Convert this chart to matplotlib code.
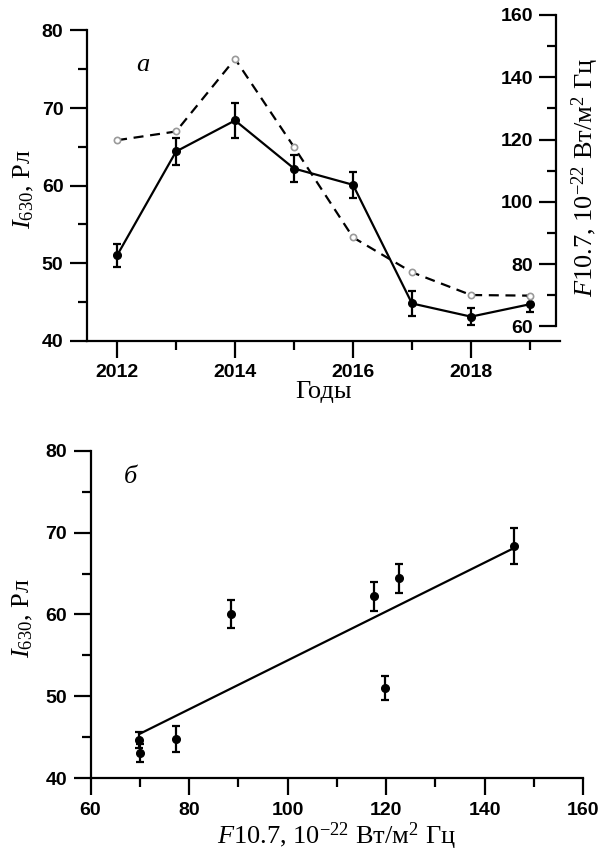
import numpy as np
import matplotlib
matplotlib.use('Agg')
import matplotlib.pyplot as plt
from matplotlib.ticker import MultipleLocator

years = [2012, 2013, 2014, 2015, 2016, 2017, 2018, 2019]
i630 = [51.0, 64.4, 68.4, 62.2, 60.1, 44.8, 43.1, 44.7]
i630_err = [1.5, 1.8, 2.2, 1.8, 1.7, 1.6, 1.1, 1.0]
f107 = [119.8, 122.6, 145.9, 117.6, 88.6, 77.4, 70.1, 69.9]

plt.rcParams['font.family'] = ['Liberation Sans', 'DejaVu Sans']
plt.rcParams['font.weight'] = 'bold'
plt.rcParams['mathtext.fontset'] = 'custom'
plt.rcParams['mathtext.rm'] = 'Liberation Serif:normal'
plt.rcParams['mathtext.it'] = 'Liberation Serif:italic:normal'

serif = dict(family='Liberation Serif', fontweight='normal', fontsize=19)
TICKSIZE = 14
LW = 1.6


def style_ticks(ax):
    ax.tick_params(which='major', direction='out', length=12, width=1.6,
                   labelsize=TICKSIZE, pad=5)
    ax.tick_params(which='minor', direction='out', length=6.5, width=1.6)


fig = plt.figure(figsize=(6.03, 8.56), dpi=100)

# ---- panel а ----
ax = fig.add_axes([0.1443, 0.602, 0.7844, 0.3805])
ax.errorbar(years, i630, yerr=i630_err, color='black', lw=LW, marker='o', ms=5.5,
            capsize=3, capthick=LW, elinewidth=LW, zorder=3)
ax.set_xlim(2011.49, 2019.51)
ax.set_ylim(40, 82.0)
ax.spines['left'].set_bounds(40, 80)
ax.spines['top'].set_visible(False)
ax.spines['right'].set_visible(False)
for s in ['left', 'bottom']:
    ax.spines[s].set_linewidth(1.6)
ax.xaxis.set_major_locator(MultipleLocator(2))
ax.xaxis.set_minor_locator(MultipleLocator(1))
ax.set_yticks([40, 50, 60, 70, 80])
ax.yaxis.set_minor_locator(MultipleLocator(5))
style_ticks(ax)
ax.set_xlabel('Годы', labelpad=0, **serif)
ax.set_ylabel('$I_{630}$, Рл', **serif)
ax.yaxis.set_label_coords(-0.107, 0.466)
ax.text(2012.44, 75.55, 'а', style='italic', ha='center', va='center', **serif)

# F10.7 axis: spine at the right end, ticks and labels on its left side
ax2 = ax.twinx()
ax2.plot(years, f107, color='black', lw=LW, ls=(0, (4.5, 3)), marker='o', ms=4.5,
         mfc='white', mec='#9a9a9a', mew=1.2, zorder=2)
ax2.set_ylim(55.44, 160)
for s in ['right', 'top', 'bottom']:
    ax2.spines[s].set_visible(False)
ax2.yaxis.tick_left()
ax2.spines['left'].set_position(('data', 2019.45))
ax2.spines['left'].set_bounds(60, 160)
ax2.spines['left'].set_linewidth(1.6)
ax2.set_yticks([60, 80, 100, 120, 140, 160])
ax2.yaxis.set_minor_locator(MultipleLocator(10))
style_ticks(ax2)
ax2.yaxis.set_label_position('right')
ax2.set_ylabel('$F$10.7, 10$^{-22}$ Вт/м$^2$ Гц', labelpad=7, **serif)

# ---- panel б ----
bx = fig.add_axes([0.1501, 0.0908, 0.8172, 0.3827])
bx.errorbar(f107, i630, yerr=i630_err, color='black', ls='none', marker='o', ms=5.5,
            capsize=3, capthick=LW, elinewidth=LW, zorder=3)
k, b = np.polyfit(f107, i630, 1)
xf = np.array([min(f107), max(f107)])
bx.plot(xf, k * xf + b, color='black', lw=LW)
bx.set_xlim(60, 160)
bx.set_ylim(40, 80)
bx.spines['top'].set_visible(False)
bx.spines['right'].set_visible(False)
for s in ['left', 'bottom']:
    bx.spines[s].set_linewidth(1.6)
bx.xaxis.set_major_locator(MultipleLocator(20))
bx.xaxis.set_minor_locator(MultipleLocator(10))
bx.yaxis.set_major_locator(MultipleLocator(10))
bx.yaxis.set_minor_locator(MultipleLocator(5))
style_ticks(bx)
bx.set_xlabel('$F$10.7, 10$^{-22}$ Вт/м$^2$ Гц', labelpad=1, **serif)
bx.set_ylabel('$I_{630}$, Рл', **serif)
bx.yaxis.set_label_coords(-0.113, 0.49)
bx.text(68.2, 76.8, 'б', style='italic', ha='center', va='center', **serif)

fig.savefig('out.png', dpi=100)
